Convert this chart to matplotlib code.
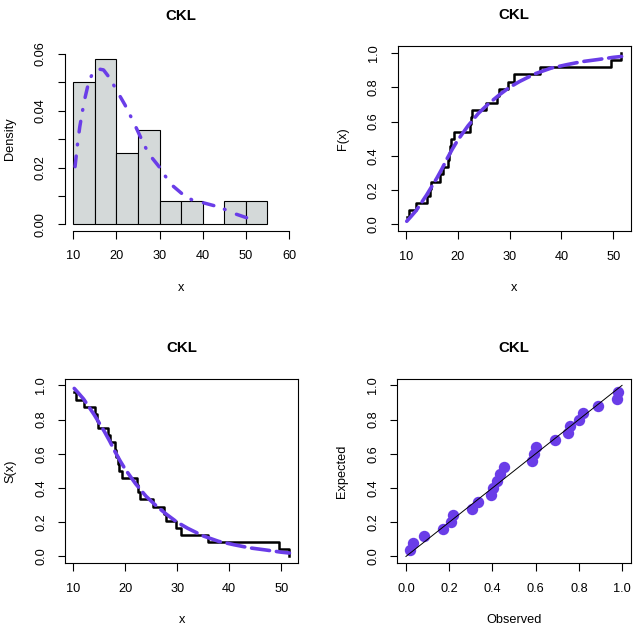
import matplotlib
matplotlib.use("Agg")
import matplotlib.pyplot as plt

plt.rcParams['font.family'] = ['Liberation Sans', 'DejaVu Sans']
plt.rcParams['lines.scale_dashes'] = False

# ---------------- data ----------------
data = [10.2, 10.6, 12.0, 14.2, 14.6, 14.8, 16.6, 17.1, 18.1, 18.3, 18.6, 18.8,
        19.3, 22.3, 22.5, 22.8, 25.4, 27.5, 27.9, 29.8, 30.8, 35.9, 49.6, 51.5]
bin_edges = [10, 15, 20, 25, 30, 35, 40, 45, 50, 55]

dens_x = [10.4, 10.9, 11.5, 12.5, 13.5, 14.6, 15.6, 17.0, 18.5, 20.0, 22.0, 23.9,
          25.5, 27.4, 30.2, 32.4, 35.1, 37.8, 40.1, 44.0, 47.1, 50.2, 52.0]
dens_y = [0.0203, 0.0274, 0.0344, 0.0432, 0.0497, 0.0538, 0.0548, 0.0544, 0.0514,
          0.0473, 0.0420, 0.0362, 0.0310, 0.0250, 0.0197, 0.0144, 0.0109, 0.0083,
          0.0076, 0.0060, 0.0039, 0.0023, 0.0019]

fit_x = [10.2, 11, 12, 13, 14, 15, 16, 17, 18, 19, 20, 22, 24, 26, 28, 30, 32, 35,
         38, 41, 44, 47, 50, 51.6]
fit_cdf = [0.018, 0.045, 0.080, 0.125, 0.170, 0.220, 0.270, 0.325, 0.385, 0.440,
           0.490, 0.575, 0.648, 0.705, 0.755, 0.800, 0.835, 0.880, 0.912, 0.932,
           0.950, 0.962, 0.975, 0.980]
fit_surv = [0.982, 0.955, 0.920, 0.875, 0.830, 0.780, 0.730, 0.675, 0.615, 0.560,
            0.510, 0.425, 0.352, 0.295, 0.245, 0.200, 0.165, 0.120, 0.088, 0.068,
            0.050, 0.038, 0.025, 0.020]

ecdf_levels = [1/24, 2/24, 3/24, 4/24, 5/24, 6/24, 7/24, 8/24, 9/24, 10/24, 11/24,
               12/24, 13/24, 14/24, 15/24, 16/24, 17/24, 18/24, 19/24, 20/24,
               21/24, 22/24, 23/24, 24/24]
surv_levels = [23/24, 22/24, 21/24, 20/24, 19/24, 18/24, 17/24, 16/24, 15/24,
               14/24, 13/24, 12/24, 11/24, 10/24, 9/24, 8/24, 7/24, 6/24, 5/24,
               4/24, 3/24, 2/24, 1/24, 0]

pp_observed = [0.0185, 0.032, 0.083, 0.173, 0.207, 0.219, 0.307, 0.335, 0.392,
               0.404, 0.423, 0.435, 0.454, 0.585, 0.593, 0.602, 0.691, 0.748,
               0.759, 0.802, 0.821, 0.890, 0.975, 0.980]
pp_expected = [0.04, 0.08, 0.12, 0.16, 0.20, 0.24, 0.28, 0.32, 0.36, 0.40, 0.44,
               0.48, 0.52, 0.56, 0.60, 0.64, 0.68, 0.72, 0.76, 0.80, 0.84, 0.88,
               0.92, 0.96]
ref_line = [0, 1]

title = "CKL"
xticks_hist = [10, 20, 30, 40, 50, 60]
yticks_hist = [0.00, 0.01, 0.02, 0.03, 0.04, 0.05, 0.06]
yticklabels_hist = ["0.00", "", "0.02", "", "0.04", "", "0.06"]
xticks_x = [10, 20, 30, 40, 50]
ticks01 = [0.0, 0.2, 0.4, 0.6, 0.8, 1.0]

PURPLE = '#6a3de8'
FILL = '#d4d9d9'

# ---------------- layout ----------------
W, H = 636, 632
fig = plt.figure(figsize=(W / 100, H / 100), dpi=100)

def px_axes(x0, x1, y0, y1):
    return fig.add_axes([x0 / W, (H - y1) / H, (x1 - x0) / W, (y1 - y0) / H])

FS = 9.2
TL = 5.4
def style(ax, box=True):
    for s in ax.spines.values():
        s.set_linewidth(0.8)
        s.set_visible(box)
    ax.tick_params(direction='out', length=TL, width=0.8, labelsize=FS,
                   colors='black')
    ax.tick_params(axis='x', pad=8.5)
    ax.tick_params(axis='y', pad=7.5)
    for lab in ax.get_yticklabels():
        lab.set_rotation(90)
        lab.set_va('center')

def labels(ax, xl, yl):
    ax.set_xlabel(xl, fontsize=FS)
    ax.set_ylabel(yl, fontsize=FS)
    ax.xaxis.set_label_coords(0.5, -57 / 185)
    ax.yaxis.set_label_coords(-55 / 233, 0.5)
    ax.xaxis.label.set_va('center')
    ax.yaxis.label.set_va('center')
    ax.text(0.5, 1 + 31 / 185, title, transform=ax.transAxes, ha='center',
            va='center', fontsize=10.8, fontweight='bold')

dash_hist = (0, (7.7, 8.1, 0.5, 8.9))
dash_fit = (0, (13.0, 5.0))

# ---- top-left: histogram ----
ax1 = px_axes(64.7, 297.6, 47.2, 231.1)
ax1.hist(data, bins=bin_edges, density=True, color=FILL, edgecolor='black',
         linewidth=0.8)
ax1.plot(dens_x, dens_y, color=PURPLE, lw=2.5, linestyle=dash_hist,
         dash_capstyle='round')
ax1.set_xlim(8, 62)
ax1.set_ylim(-0.0024, 0.0624)
ax1.set_xticks(xticks_hist)
ax1.set_yticks(yticks_hist)
ax1.set_yticklabels(yticklabels_hist)
style(ax1, box=False)
ax1.spines['bottom'].set_visible(True)
ax1.spines['left'].set_visible(True)
ax1.spines['bottom'].set_bounds(10, 60)
ax1.spines['left'].set_bounds(0, 0.06)
labels(ax1, "x", "Density")

# ---- top-right: CDF ----
ax2 = px_axes(397.7, 630.7, 46.2, 231.2)
ax2.plot(data, ecdf_levels, drawstyle='steps-post', color='black', lw=1.8)
ax2.plot(fit_x, fit_cdf, color=PURPLE, lw=2.6, linestyle=dash_fit,
         dash_capstyle='round')
ax2.set_xlim(8.46, 53.35)
ax2.set_ylim(-0.04, 1.04)
ax2.set_xticks(xticks_x)
ax2.set_yticks(ticks01)
style(ax2)
labels(ax2, "x", "F(x)")

# ---- bottom-left: survival ----
ax3 = px_axes(65.3, 298.3, 378.5, 563.3)
ax3.plot(data, surv_levels, drawstyle='steps-post', color='black', lw=1.8)
ax3.plot(fit_x, fit_surv, color=PURPLE, lw=2.6, linestyle=dash_fit,
         dash_capstyle='round')
ax3.set_xlim(8.48, 53.3)
ax3.set_ylim(-0.04, 1.04)
ax3.set_xticks(xticks_x)
ax3.set_yticks(ticks01)
style(ax3)
labels(ax3, "x", "S(x)")

# ---- bottom-right: PP plot ----
ax4 = px_axes(397.3, 630.7, 378.5, 563.3)
ax4.plot(pp_observed, pp_expected, 'o', color=PURPLE, markersize=8.2,
         markeredgewidth=0)
ax4.plot(ref_line, ref_line, color='black', lw=0.7)
ax4.set_xlim(-0.04, 1.04)
ax4.set_ylim(-0.04, 1.04)
ax4.set_xticks(ticks01)
ax4.set_yticks(ticks01)
style(ax4)
labels(ax4, "Observed", "Expected")

fig.savefig("out.png", dpi=100, facecolor='white')
